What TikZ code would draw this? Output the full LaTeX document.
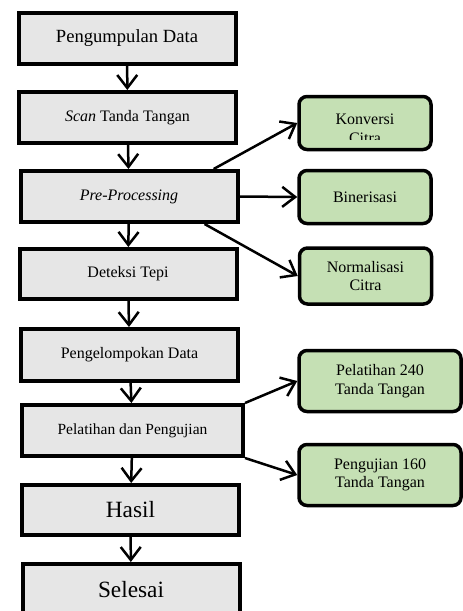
\documentclass[tikz,border=0pt]{standalone}
\usepackage{fontspec}
\setmainfont{Liberation Serif}
\usetikzlibrary{arrows.meta}
\definecolor{boxgray}{HTML}{E6E6E6}
\definecolor{boxgreen}{HTML}{C5E0B4}

\begin{document}
\begin{tikzpicture}[x=1pt,y=-1pt,
  >={Straight Barb[length=13pt,width=20pt]},
  stepbox/.style={draw,line width=4pt,fill=boxgray,minimum width=217pt,
    minimum height=51pt,inner sep=0pt,font=\fontsize{16}{19}\selectfont},
  subbox/.style={draw,line width=3.5pt,fill=boxgreen,rounded corners=8pt,
    minimum width=132pt,minimum height=53pt,inner sep=0pt,align=center,
    font=\fontsize{16}{18.5}\selectfont},
  flow/.style={->,line width=2.5pt}]
  % page frame, one px = one pt, y runs downwards
  \useasboundingbox (0,0) rectangle (463,611);
  \clip (0,0) rectangle (463,611);

  % main column
  \node[stepbox,font=\fontsize{18.6}{22}\selectfont] (data) at (127,38) {Pengumpulan Data};
  \node[stepbox] (scan) at (127.5,117.5) {\textit{Scan} Tanda Tangan};
  \node[stepbox] (pre) at (129,196.5) {\textit{Pre-Processing}};
  \node[stepbox,minimum height=50pt] (tepi) at (128,274) {Deteksi Tepi};
  \node[stepbox,minimum height=52pt] (kel) at (129.5,355) {Pengelompokan Data};
  \node[stepbox,minimum width=221pt,font=\fontsize{15.5}{18}\selectfont]
    (latuji) at (132.5,430.5) {Pelatihan dan Pengujian};
  \node[stepbox,minimum height=50pt,font=\fontsize{23.3}{27}\selectfont] (hasil) at (130.5,510) {Hasil};
  \node[stepbox,minimum height=52pt,font=\fontsize{23.3}{27}\selectfont] (selesai) at (131,590) {Selesai};

  \draw[flow] (data) -- (scan);
  \draw[flow] (scan) -- (pre);
  \draw[flow] (pre) -- (tepi);
  \draw[flow] (tepi) -- (kel);
  \draw[flow] (kel) -- (latuji);
  \draw[flow] (latuji) -- (hasil);
  \draw[flow] (hasil) -- (selesai);

  % pre-processing steps
  \node[subbox] (konv) at (365,123) {};
  \begin{scope}
    \clip (290,90) rectangle (440,139);
    \node[align=center,font=\fontsize{16}{18.5}\selectfont] (konvtext) at (365,129) {Konversi\\Citra};
  \end{scope}
  \node[subbox] (bin) at (365,197) {Binerisasi};
  \node[subbox,minimum height=56pt] (norm) at (365.5,276) {Normalisasi\\Citra};

  \draw[flow] (pre.18) -- (konv.west);
  \draw[flow] (pre.east) -- (bin.west);
  \draw[flow] (pre.-20) -- (norm.west);

  % data split
  \node[subbox,minimum width=162pt,minimum height=61pt] (latih) at (380,381) {Pelatihan 240\\Tanda Tangan};
  \node[subbox,minimum width=162pt,minimum height=61pt] (uji) at (380,475) {Pengujian 160\\Tanda Tangan};

  \draw[flow] (latuji.north east) -- (latih.west);
  \draw[flow] (latuji.south east) -- (uji.west);
\end{tikzpicture}
\end{document}
